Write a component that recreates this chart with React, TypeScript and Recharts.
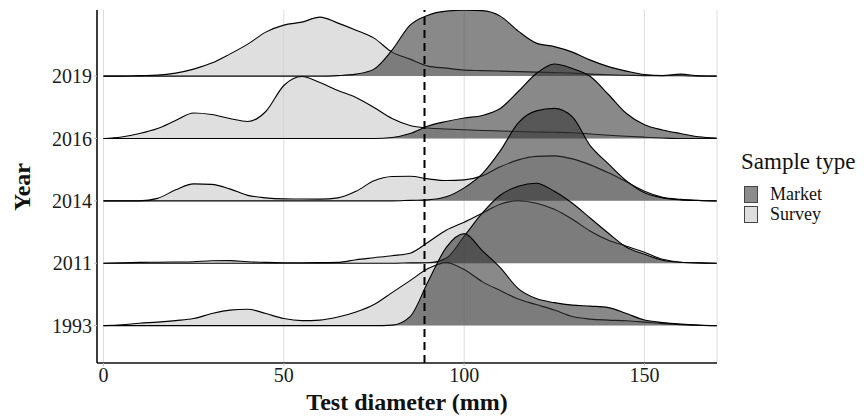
import { ComposedChart, Area, XAxis, YAxis, CartesianGrid, ReferenceLine } from 'recharts'

// Test diameter (mm) at which the ridge heights were read
const diameters = [
  0, 5, 10, 15, 20, 25, 30, 35, 40, 45, 50, 55, 60, 65, 70, 75, 80, 85,
  90, 95, 100, 105, 110, 115, 120, 125, 130, 135, 140, 145, 150, 155, 160, 165, 170,
]

const years = ['1993', '2011', '2014', '2016', '2019']

// Density heights per year (same units for every ridge)
const survey2019 = [0, 0, 0.5, 1, 3, 7, 13, 22, 32, 44, 51, 54, 59, 53, 46, 38, 24, 17, 10, 8, 6, 5.5, 5, 4.5, 4, 3.5, 3, 2, 1.3, 0.8, 0.5, 0.3, 0.3, 0, 0]
const market2019 = [0, 0, 0, 0, 0, 0, 0, 0, 0, 0, 0, 0, 0, 0.5, 2, 7, 26, 51, 61, 65, 66, 65.5, 60, 45, 33, 29.5, 24, 16, 9.5, 5, 1.5, 0.5, 2, 0.3, 0]

const survey2016 = [0, 1.5, 5, 10, 18, 25.5, 24, 20, 17, 27, 53, 62, 56, 48, 41, 31, 20, 13, 10.5, 9.5, 8.7, 8, 7.5, 7, 6.5, 6.2, 5.8, 4.5, 3.3, 2.2, 1.3, 0.5, 0, 0, 0]
const market2016 = [0, 0, 0, 0, 0, 0, 0, 0, 0, 0, 0, 0, 0, 0, 0, 0, 1, 5, 12.5, 17, 20.5, 23, 30, 47, 65, 74.5, 70, 62, 44, 25, 13.7, 8.5, 5, 1.8, 0.5]

const survey2014 = [0, 0, 0, 2.5, 11, 17, 16.5, 12, 5.5, 3, 2, 1.8, 1.7, 3, 9.5, 20, 24.3, 24.6, 22, 20.3, 21, 25, 34, 41, 44.5, 45, 42, 36, 28, 19, 9.5, 3.5, 1.5, 0.5, 0]
const market2014 = [0, 0, 0, 0, 0, 0, 0, 0, 0, 0, 0, 0, 0, 0, 0, 0, 0, 0.5, 1, 4, 13, 27, 50, 78, 90, 92.5, 84, 55, 37, 20, 8, 3, 1, 0.3, 0]

const survey2011 = [0, 0.3, 0.8, 1, 1.2, 1.5, 2.5, 2.6, 1.5, 0.8, 0.5, 0.5, 0.6, 0.8, 3.5, 5.5, 7.5, 10, 21, 33, 41, 50, 59, 62.5, 60, 54, 44, 32, 23, 17, 11, 4, 1, 0.3, 0]
const market2011 = [0, 0, 0, 0, 0, 0, 0, 0, 0, 0, 0, 0, 0, 0, 0, 0, 0, 0.3, 0.5, 5, 27, 50, 68, 77, 80, 72, 60, 45, 30, 16, 9, 3, 1, 0.3, 0]

const survey1993 = [0, 0.8, 2.4, 3.5, 5, 7, 12, 15.5, 16.4, 12, 7, 5, 5.5, 8.5, 13.5, 21, 33, 45, 57, 63, 56, 44, 35, 26.5, 21, 15.5, 9, 6.5, 5.5, 4.8, 3.5, 2, 1, 0.3, 0]
const market1993 = [0, 0, 0, 0, 0, 0, 0, 0, 0, 0, 0, 0, 0, 0, 0, 0, 0.5, 9, 44, 78, 92, 75, 58, 37, 27, 23, 20.5, 19.5, 18, 12, 5.5, 3, 1.5, 0.5, 0]

const CUTOFF = 89
const xTicks = [0, 50, 100, 150]

// one density unit = 1/62.4 of the gap between two ridges
const RIDGE_SCALE = 1 / 62.4

const MARKET = { fill: '#333333', opacity: 0.58, key: '#8c8c8c' }
const SURVEY = { fill: '#cccccc', opacity: 0.62, key: '#dedede' }

// draw order: top ridge first so lower ridges sit in front
const ridges = [
  { year: '2019', survey: survey2019, market: market2019 },
  { year: '2016', survey: survey2016, market: market2016 },
  { year: '2014', survey: survey2014, market: market2014 },
  { year: '2011', survey: survey2011, market: market2011 },
  { year: '1993', survey: survey1993, market: market1993 },
]

const basePos = (year: string) => years.indexOf(year) + 1

const chartData = diameters.map((d, i) => {
  const row: Record<string, number> = { d }
  ridges.forEach((r) => {
    const base = basePos(r.year)
    row[`s${r.year}`] = base + r.survey[i] * RIDGE_SCALE
    row[`m${r.year}`] = base + r.market[i] * RIDGE_SCALE
  })
  return row
})

const serif = '"Liberation Serif", "Times New Roman", serif'

export default function App() {
  return (
    <div style={{ position: 'absolute', left: 0, top: 0, width: 867, height: 419, fontFamily: serif, background: '#fff' }}>
      <ComposedChart
        width={867}
        height={419}
        data={chartData}
        margin={{ top: 10, right: 150, bottom: 0, left: 0 }}
      >
        <CartesianGrid horizontal={false} stroke="#dddddd" strokeWidth={1} />
        <XAxis
          dataKey="d"
          type="number"
          domain={[-1.8, 170.1]}
          ticks={xTicks}
          allowDataOverflow
          height={56}
          tickSize={3}
          tickLine={{ stroke: '#bbbbbb' }}
          axisLine={{ stroke: '#111', strokeWidth: 1.6 }}
          tick={{ fontSize: 20, fill: '#1a1a1a', fontFamily: serif }}
        />
        <YAxis
          type="number"
          domain={[0.4, 6.06]}
          ticks={[1, 2, 3, 4, 5]}
          allowDataOverflow
          width={97}
          tickSize={3}
          tickLine={{ stroke: '#bbbbbb' }}
          axisLine={{ stroke: '#111', strokeWidth: 1.6 }}
          tickFormatter={(v: number) => years[v - 1]}
          tick={{ fontSize: 20, fill: '#1a1a1a', fontFamily: serif }}
        />
        {ridges.flatMap((r) => [
          <Area
            key={`s${r.year}`}
            type="monotone"
            dataKey={`s${r.year}`}
            baseValue={basePos(r.year)}
            stroke="#000"
            strokeWidth={1.1}
            fill={SURVEY.fill}
            fillOpacity={SURVEY.opacity}
            dot={false}
            activeDot={false}
            isAnimationActive={false}
          />,
          <Area
            key={`m${r.year}`}
            type="monotone"
            dataKey={`m${r.year}`}
            baseValue={basePos(r.year)}
            stroke="#000"
            strokeWidth={1.1}
            fill={MARKET.fill}
            fillOpacity={MARKET.opacity}
            dot={false}
            activeDot={false}
            isAnimationActive={false}
          />,
        ])}
        <ReferenceLine x={CUTOFF} stroke="#000" strokeWidth={2} strokeDasharray="8 5" />
      </ComposedChart>

      {/* axis titles */}
      <div
        style={{
          position: 'absolute', left: 407, top: 388, transform: 'translateX(-50%)',
          fontSize: 24, fontWeight: 'bold', whiteSpace: 'nowrap', lineHeight: '28px', color: '#111',
        }}
      >
        Test diameter (mm)
      </div>
      <div
        style={{
          position: 'absolute', left: 22, top: 187, transform: 'translate(-50%, -50%) rotate(-90deg)',
          fontSize: 24, fontWeight: 'bold', whiteSpace: 'nowrap', lineHeight: '28px', color: '#111',
        }}
      >
        Year
      </div>

      {/* legend */}
      <div style={{ position: 'absolute', left: 741, top: 148, color: '#111' }}>
        <div style={{ fontSize: 23, lineHeight: '28px', whiteSpace: 'nowrap' }}>Sample type</div>
        <div style={{ height: 8 }} />
        {[
          { label: 'Market', color: MARKET.key },
          { label: 'Survey', color: SURVEY.key },
        ].map((item) => (
          <div key={item.label} style={{ display: 'flex', alignItems: 'center', height: 20, marginLeft: 3 }}>
            <div
              style={{
                width: 12, height: 15, background: item.color, border: '1.5px solid #444',
              }}
            />
            <span style={{ fontSize: 18, lineHeight: '20px', marginLeft: 12 }}>{item.label}</span>
          </div>
        ))}
      </div>
    </div>
  )
}
